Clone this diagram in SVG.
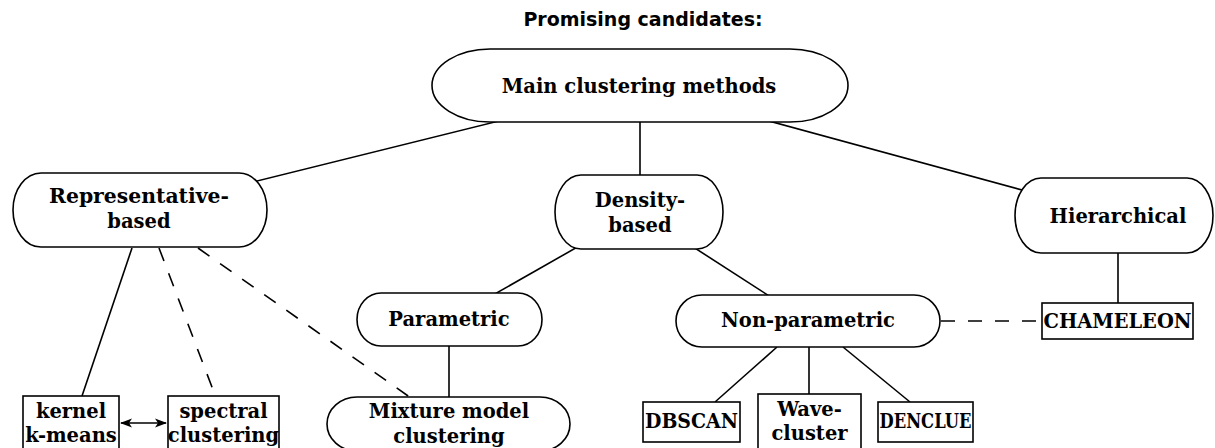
<svg xmlns="http://www.w3.org/2000/svg" width="1215" height="448" viewBox="0 0 1215 448">
<style>
.n{fill:#fff;stroke:#000;stroke-width:1.6}
.t{font-family:"DejaVu Serif",serif;font-weight:bold;font-size:19.5px;fill:#000;text-anchor:middle}
.c line{stroke:#000;stroke-width:1.6}
.d{stroke-dasharray:14 13}
</style>
<defs>
<marker id="ah" viewBox="0 0 12 10" refX="11" refY="5" markerWidth="12" markerHeight="10" markerUnits="userSpaceOnUse" orient="auto-start-reverse">
<path d="M0,0.5 L12,5 L0,9.5 L3,5 Z" fill="#000"/>
</marker>
</defs>
<rect width="1215" height="448" fill="#fff"/>
<text x="643" y="26" style="font-family:'DejaVu Sans',sans-serif;font-weight:bold;font-size:19px;text-anchor:middle">Promising candidates:</text>
<g class="c" id="connectors">
<line x1="640" y1="86" x2="140" y2="210"/>
<line x1="640" y1="86" x2="1114" y2="215"/>
<line x1="640" y1="122" x2="640" y2="175"/>
<line x1="639" y1="212" x2="449" y2="320"/>
<line x1="639" y1="212" x2="808" y2="321"/>
<line x1="1118" y1="253" x2="1118" y2="303"/>
<line x1="132" y1="248" x2="82" y2="396"/>
<line class="d" x1="159" y1="248" x2="215" y2="395"/>
<line class="d" x1="198" y1="248" x2="411" y2="398"/>
<line x1="449" y1="346" x2="449" y2="397"/>
<line class="d" x1="941" y1="321" x2="1042" y2="321"/>
<line x1="777" y1="347" x2="715" y2="402"/>
<line x1="809" y1="347" x2="809" y2="394"/>
<line x1="843" y1="347" x2="910" y2="402"/>
<line x1="121" y1="423" x2="166" y2="423" marker-start="url(#ah)" marker-end="url(#ah)"/>
</g>
<g id="main"><rect class="n" x="432" y="49" width="416" height="73" rx="58" ry="36.5"/><text class="t" x="639" y="93">Main clustering methods</text></g>
<g id="representative"><rect class="n" x="13" y="173" width="254" height="74" rx="28" ry="37"/><text class="t" x="139" y="203" textLength="180" lengthAdjust="spacingAndGlyphs">Representative-</text><text class="t" x="139" y="228">based</text></g>
<g id="density"><rect class="n" x="555" y="175" width="168" height="74" rx="26" ry="37"/><text class="t" x="640" y="207">Density-</text><text class="t" x="640" y="232">based</text></g>
<g id="hierarchical"><rect class="n" x="1015" y="178" width="198" height="75" rx="26" ry="37.5"/><text class="t" x="1118" y="223">Hierarchical</text></g>
<g id="chameleon"><rect class="n" x="1042" y="303" width="151" height="36"/><text class="t" x="1117.5" y="328" textLength="148" lengthAdjust="spacingAndGlyphs">CHAMELEON</text></g>
<g id="parametric"><rect class="n" x="357" y="293" width="185" height="53" rx="24" ry="26.5"/><text class="t" x="449" y="326">Parametric</text></g>
<g id="nonparametric"><rect class="n" x="676" y="295" width="264" height="52" rx="26" ry="26"/><text class="t" x="808" y="327">Non-parametric</text></g>
<g id="mixture"><rect class="n" x="327" y="397" width="243" height="54" rx="30" ry="27"/><text class="t" x="449" y="418">Mixture model</text><text class="t" x="449" y="443">clustering</text></g>
<g id="kernel"><rect class="n" x="23" y="396" width="96" height="60"/><text class="t" x="71" y="418">kernel</text><text class="t" x="71" y="442">k-means</text></g>
<g id="spectral"><rect class="n" x="168" y="396" width="111" height="60"/><text class="t" x="223.5" y="418">spectral</text><text class="t" x="223.5" y="442">clustering</text></g>
<g id="dbscan"><rect class="n" x="643" y="402" width="97" height="40"/><text class="t" x="691.5" y="428" textLength="93" lengthAdjust="spacingAndGlyphs">DBSCAN</text></g>
<g id="wavecluster"><rect class="n" x="758" y="394" width="103" height="60"/><text class="t" x="809.5" y="416">Wave-</text><text class="t" x="809.5" y="440">cluster</text></g>
<g id="denclue"><rect class="n" x="878" y="402" width="95" height="40"/><text class="t" x="925.5" y="428" textLength="92" lengthAdjust="spacingAndGlyphs">DENCLUE</text></g>
</svg>
